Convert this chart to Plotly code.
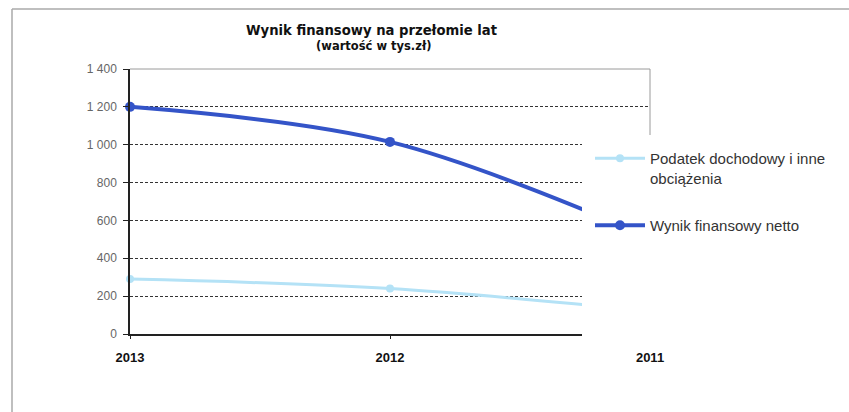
import plotly.graph_objects as go

years = ["2013", "2012", "2011"]
podatek = [290, 240, 120]
wynik = [1200, 1015, 510]
ytick_vals = [0, 200, 400, 600, 800, 1000, 1200, 1400]
ytick_text = ["0", "200", "400", "600", "800", "1 000", "1 200", "1 400"]

W, H = 849, 412
L, R, T, B = 130, 650, 69, 334

def px(x):
    return (x - L) / (R - L)

def py(y):
    return (B - y) / (B - T)

fig = go.Figure()
fig.add_trace(go.Scatter(
    x=years, y=podatek, name="Podatek dochodowy i inne<br>obciążenia",
    mode="lines+markers", line=dict(color="#b4e2f6", width=3, shape="spline"),
    marker=dict(size=8, color="#b4e2f6"), legendgroup="a", cliponaxis=False))
fig.add_trace(go.Scatter(
    x=years, y=wynik, name="Wynik finansowy netto",
    mode="lines+markers", line=dict(color="#3454c8", width=4, shape="spline"),
    marker=dict(size=10, color="#3454c8"), legendgroup="b", cliponaxis=False))

shapes = [
    dict(type="path", xref="paper", yref="paper",
         path="M 0 1 L 1 1 L 1 0", line=dict(color="#9a9a9a", width=1), layer="above"),
    dict(type="rect", xref="paper", yref="paper", x0=px(582), x1=px(660), y0=py(339), y1=py(135),
         fillcolor="white", line=dict(width=0), layer="above"),
    dict(type="line", xref="paper", yref="paper", x0=px(12), x1=px(849), y0=py(9), y1=py(9),
         line=dict(color="#aaaaaa", width=1.5)),
    dict(type="line", xref="paper", yref="paper", x0=px(12), x1=px(12), y0=py(9), y1=py(412),
         line=dict(color="#aaaaaa", width=1.5)),
]

fig.update_layout(
    width=W, height=H,
    margin=dict(l=L, r=W - R, t=T, b=H - B),
    paper_bgcolor="white", plot_bgcolor="white",
    font=dict(family="Liberation Sans, Arial, sans-serif", color="#333333"),
    showlegend=True,
    legend=dict(x=px(590), y=py(142), xanchor="left", yanchor="top",
                bgcolor="rgba(0,0,0,0)", font=dict(size=15, color="#333333"),
                traceorder="grouped", tracegroupgap=25, itemwidth=50, valign="top"),
    shapes=shapes,
    annotations=[
        dict(text="<b>Wynik finansowy na przełomie lat</b>", xref="paper", yref="paper",
             x=px(371), y=py(30), xanchor="center", yanchor="middle", showarrow=False,
             font=dict(family="DejaVu Sans", size=13.2, color="#111111")),
        dict(text="<b>(wartość w tys.zł)</b>", xref="paper", yref="paper",
             x=px(373), y=py(46), xanchor="center", yanchor="middle", showarrow=False,
             font=dict(family="DejaVu Sans", size=11.5, color="#111111")),
    ],
)

fig.update_xaxes(type="category", range=[0, 2], showgrid=False,
                 showline=True, linecolor="#222222", linewidth=1.5,
                 ticks="outside", ticklen=3, tickcolor="#222222",
                 tickfont=dict(size=13, color="#111111", family="Liberation Sans, Arial"),
                 ticklabelstandoff=8, tickprefix="<b>", ticksuffix="</b>")
fig.update_yaxes(range=[0, 1400], tickvals=ytick_vals, ticktext=ytick_text,
                 showgrid=True, gridcolor="#333333", gridwidth=1, griddash="3px,2px",
                 showline=True, linecolor="#222222", linewidth=1.5,
                 ticks="outside", ticklen=5, tickcolor="#222222",
                 tickfont=dict(size=12, color="#666666"), ticklabelstandoff=4,
                 zeroline=False)

fig.write_html("out.html")
